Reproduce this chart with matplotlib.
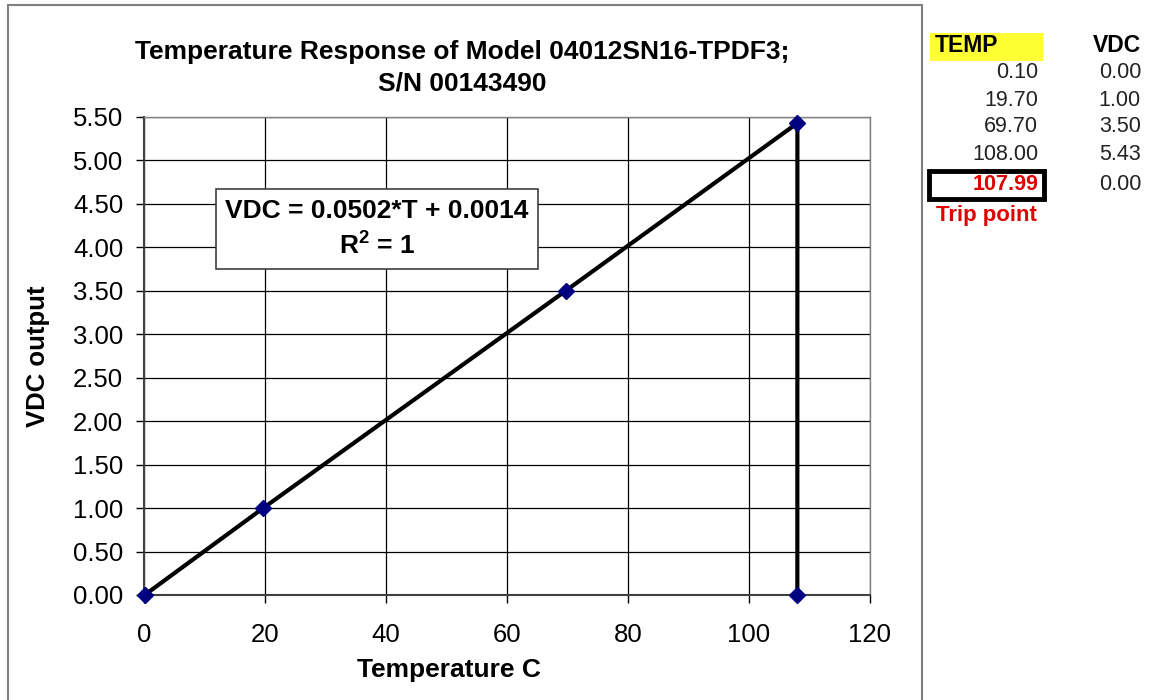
import matplotlib
matplotlib.use("Agg")
import matplotlib.pyplot as plt
from matplotlib.patches import Rectangle

plt.rcParams['font.family'] = ['Liberation Sans', 'DejaVu Sans']
plt.rcParams['mathtext.fontset'] = 'custom'
plt.rcParams['mathtext.rm'] = 'Liberation Sans'
plt.rcParams['mathtext.bf'] = 'Liberation Sans:bold'

# Measured temperature / output pairs (last point is the trip point)
temp_c = [0.10, 19.70, 69.70, 108.00, 107.99]
vdc_out = [0.00, 1.00, 3.50, 5.43, 0.00]

temp_labels = ["0.10", "19.70", "69.70", "108.00", "107.99"]
vdc_labels = ["0.00", "1.00", "3.50", "5.43", "0.00"]

x_ticks = [0, 20, 40, 60, 80, 100, 120]
y_ticks = [0.0, 0.5, 1.0, 1.5, 2.0, 2.5, 3.0, 3.5, 4.0, 4.5, 5.0, 5.5]

W, H = 1153, 700
fig = plt.figure(figsize=(W / 100, H / 100), dpi=100)
fig.patch.set_facecolor("white")


def fx(px):
    return px / W


def fy(py):
    return 1 - py / H


# Chart outline
fig.patches.append(Rectangle((fx(8), -0.01), (922 - 8) / W, (H - 5) / H + 0.01,
                             transform=fig.transFigure, fill=False,
                             edgecolor="#7f7f7f", linewidth=1.5))

ax = fig.add_axes([fx(144), fy(595), (870 - 144) / W, (595 - 117) / H])
ax.plot(temp_c, vdc_out, color="black", linewidth=3, zorder=3)
ax.plot(temp_c, vdc_out, linestyle="none", marker="D", markersize=8.5,
        color="#000080", zorder=4, clip_on=False)

ax.set_xlim(0, 120)
ax.set_ylim(0, 5.5)
ax.set_xticks(x_ticks)
ax.set_yticks(y_ticks)
ax.set_yticklabels([f"{v:.2f}" for v in y_ticks])
ax.grid(True, color="black", linewidth=0.9)
ax.set_axisbelow(True)
for side in ("top", "right"):
    ax.spines[side].set_color("#808080")
    ax.spines[side].set_linewidth(1.0)
for side in ("left", "bottom"):
    ax.spines[side].set_color("#404040")
    ax.spines[side].set_linewidth(1.5)
ax.tick_params(axis="both", labelsize=18.5, colors="black", direction="out",
               length=6, width=1)
ax.tick_params(axis="x", pad=14)
ax.tick_params(axis="y", pad=9)

# Axis titles
fig.text(fx(449), fy(670), "Temperature C", ha="center", va="center",
         fontsize=19, fontweight="bold")
fig.text(fx(38), fy(356), "VDC output", ha="center", va="center", rotation=90,
         fontsize=18.5, fontweight="bold")

fig.text(fx(462), fy(68), "Temperature Response of Model 04012SN16-TPDF3;\nS/N 00143490",
         ha="center", va="center", fontsize=19, fontweight="bold", linespacing=1.38)

# Fit equation box
ax.text(38.5, 4.21, "VDC = 0.0502*T + 0.0014\n$\\mathbf{R^2}$ = 1", ha="center", va="center",
        fontsize=19, fontweight="bold", linespacing=1.45, zorder=5,
        bbox=dict(boxstyle="square,pad=0.35", facecolor="white", edgecolor="#404040",
                  linewidth=1.2))

# Data table
fig.patches.append(Rectangle((fx(930), fy(61)), (1043 - 930) / W, 28 / H,
                             transform=fig.transFigure, facecolor="#ffff33",
                             edgecolor="none"))
fig.text(fx(935), fy(46), "TEMP", ha="left", va="center", fontsize=16.5,
         fontweight="bold")
fig.text(fx(1141), fy(46), "VDC", ha="right", va="center", fontsize=16.5,
         fontweight="bold")
row_y = [73, 100, 127, 154, 184]
for i, (t, v) in enumerate(zip(temp_labels, vdc_labels)):
    trip = i == len(temp_labels) - 1
    fig.text(fx(1038), fy(row_y[i]), t, ha="right", va="center", fontsize=15.5,
             color="#e00000" if trip else "#222222", fontweight="bold" if trip else "normal")
    fig.text(fx(1141), fy(row_y[i]), v, ha="right", va="center", fontsize=15.5,
             color="#222222")
fig.patches.append(Rectangle((fx(929), fy(199)), (1044 - 929) / W, 28 / H,
                             transform=fig.transFigure, fill=False,
                             edgecolor="black", linewidth=3.5))
fig.text(fx(986), fy(215), "Trip point", ha="center", va="center", fontsize=16,
         fontweight="bold", color="#e00000")

fig.savefig("out.png", dpi=100, facecolor="white")
